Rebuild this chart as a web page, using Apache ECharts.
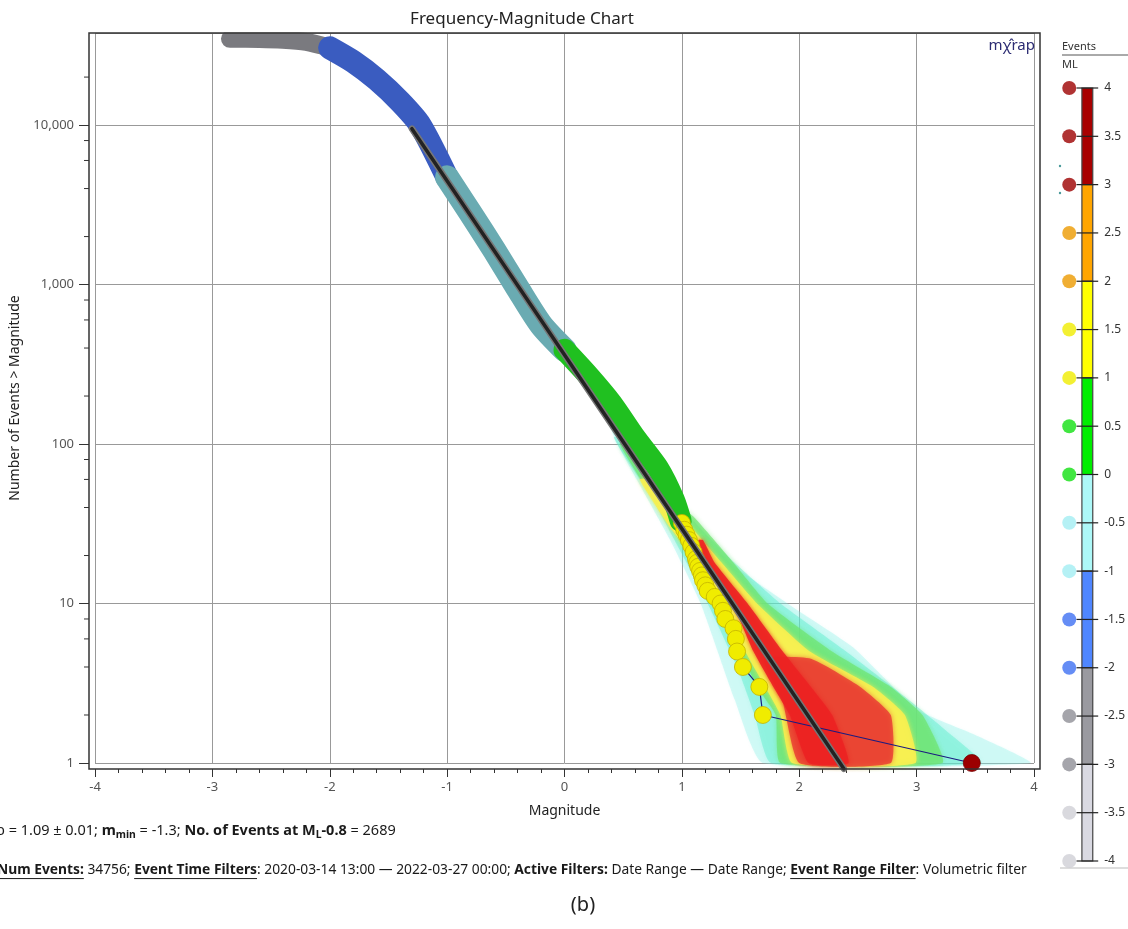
<!DOCTYPE html>
<html>
<head>
<meta charset="utf-8">
<title>Frequency-Magnitude Chart</title>
<script src="https://cdn.jsdelivr.net/npm/echarts@6/dist/echarts.min.js"></script>
<style>
  html, body { margin: 0; padding: 0; background: #fff; }
  #chart { width: 1128px; height: 929px; }
</style>
</head>
<body>
<div id="chart"></div>
<script>
// cumulative number of events N(>=M)
const grayMags   = [-2.85, -2.6, -2.4, -2.2, -2.0];
const grayCounts = [34756, 34700, 34300, 33200, 30500];
const blueMags   = [-2.0, -1.8, -1.6, -1.4, -1.23, -1.0];
const blueCounts = [30500, 25000, 19300, 14000, 10000, 4700];
const tealMags   = [-1.0, -0.8, -0.6, -0.4, -0.2, 0.0];
const tealCounts = [4700, 2800, 1650, 950, 560, 390];
const greenMags   = [0.0, 0.2, 0.4, 0.6, 0.8, 0.93, 0.99];
const greenCounts = [390, 270, 180, 110, 70, 45, 33];
// largest events, one marker each
const tailMags   = [1.00, 1.02, 1.04, 1.06, 1.08, 1.10, 1.12, 1.13, 1.14, 1.155, 1.17, 1.18, 1.20, 1.22, 1.28, 1.33, 1.35, 1.37, 1.44, 1.46, 1.47, 1.52, 1.66, 1.69, 3.47];
const tailCounts = [32, 29, 27, 25, 23, 21, 19, 18, 17, 16, 15, 14, 13, 12, 11, 10, 9, 8, 7, 6, 5, 4, 3, 2, 1];
// Gutenberg-Richter fit (b = 1.09), end points
const fitMags   = [-1.3, 2.38];
const fitCounts = [9500, 0.92];
// uncertainty fan, outline of each density level as [M, N]
const fanOuter  = [[0.36,150],[0.45,100],[0.62,59],[0.90,25],[1.16,10],[1.45,2.5],[1.69,1],
                   [3.97,1],[3.50,1.5],[3.01,2.15],[2.46,5.3],[1.90,10],[1.41,18],[1.01,37],[0.64,100],[0.49,150]];
const fanMint   = [[0.42,110],[0.75,45],[1.04,18],[1.22,10],[1.47,4],[1.62,2],[1.76,1],
                   [3.55,1],[3.25,1.6],[2.90,2.6],[2.40,5],[1.84,10],[1.45,18],[1.05,36],[0.62,100]];
const fanGreen  = [[0.47,100],[0.80,40],[1.09,18],[1.26,10],[1.50,5],[1.64,3],[1.80,2],[1.84,1],
                   [3.22,1],[3.05,2],[2.78,3],[2.28,5],[1.73,10],[1.44,18],[1.10,35],[0.73,60],[0.59,100]];
const fanYellow = [[0.64,60],[0.90,30],[1.13,18],[1.34,10],[1.54,5],[1.71,3],[1.84,2],[1.94,1],
                   [2.99,1],[2.90,2],[2.63,3],[2.09,5],[1.64,10],[1.34,18],[1.05,32],[0.71,60]];
const fanPink   = [[1.70,4.5],[1.86,2.4],[2.00,1],[2.78,1],[2.78,2],[2.52,3],[2.10,4.5]];
const fanRed    = [[1.14,25],[1.20,18],[1.43,10],[1.61,5],[1.78,3],[1.92,2],[2.08,1],
                   [2.42,1],[2.28,2],[2.10,3],[1.86,5],[1.56,10],[1.28,18],[1.18,25]];
// y axis minor ticks
const yMinorTicks = [2,4,6,8,20,40,60,80,200,400,600,800,2000,4000,6000,8000,20000];
// colour legend (ML)
const legendLevels = [4,3.5,3,2.5,2,1.5,1,0.5,0,-0.5,-1,-1.5,-2,-2.5,-3,-3.5,-4];
const legendBandLo = [3,2,1,0,-1,-2,-3,-4];

const barColors = ['#a80000','#ffa500','#ffff00','#00ee00','#adf8f8','#4f86ff','#9a9aa0','#d9d9e2'];
const dotColors = ['#9c0000','#ec9a00','#f0ec00','#12e012','#a2eef2','#3f70f2','#8e8e96','#cfcfd6'];
function bandIndex(m) {
  for (let i = 0; i < legendBandLo.length; i++) if (m >= legendBandLo[i]) return i;
  return legendBandLo.length - 1;
}

const chart = echarts.init(document.getElementById('chart'));

function pairs(a, b) { return a.map((v, i) => [v, b[i]]); }

function band(mags, counts, color, width) {
  return {
    type: 'line', data: pairs(mags, counts), smooth: 0.25, symbol: 'none', z: 3, silent: true,
    lineStyle: { color: color, width: width, cap: 'round', join: 'round' }
  };
}

function fan(points, fill, blur) {
  return {
    type: 'custom', z: 1, silent: true, data: points, encode: { x: 0, y: 1 },
    renderItem: function (params, api) {
      if (params.dataIndex !== 0) return null;
      return {
        type: 'polygon',
        shape: { points: points.map(p => api.coord(p)), smooth: 0.15 },
        style: { fill: fill, shadowBlur: blur, shadowColor: fill }
      };
    }
  };
}

// text runs with bold / underline / subscript pieces
const measureCtx = document.createElement('canvas').getContext('2d');
function fontOf(s, size) { return (s.b ? 'bold ' : '') + (s.sub ? size * 0.72 : size) + 'px "Noto Sans"'; }
function textRun(segs, x0, y, targetWidth) {
  let total = 0;
  segs.forEach(s => { measureCtx.font = fontOf(s, 13); total += measureCtx.measureText(s.t).width; });
  const size = 13 * targetWidth / total;
  const els = [];
  let x = x0;
  segs.forEach(s => {
    measureCtx.font = fontOf(s, size);
    const w = measureCtx.measureText(s.t).width;
    els.push({
      type: 'text', x: x, y: y + (s.sub ? size * 0.3 : 0), z: 50,
      style: { text: s.t, fontSize: s.sub ? size * 0.72 : size, fontWeight: s.b ? 'bold' : 'normal',
               fontFamily: 'Noto Sans', fill: '#1a1a1a', verticalAlign: 'middle' }
    });
    if (s.u) els.push({ type: 'line', z: 50, shape: { x1: x, y1: y + size * 0.62, x2: x + w, y2: y + size * 0.62 },
                        style: { stroke: '#1a1a1a', lineWidth: 1 } });
    x += w;
  });
  return els;
}

const line1 = [
  { t: 'b = 1.09 \u00b1 0.01; ' }, { t: 'm', b: 1 }, { t: 'min', b: 1, sub: 1 }, { t: ' = -1.3; ' },
  { t: 'No. of Events at M', b: 1 }, { t: 'L', b: 1, sub: 1 }, { t: '-0.8', b: 1 }, { t: ' = 2689' }
];
const line2 = [
  { t: 'Num Events:', b: 1, u: 1 }, { t: ' 34756; ' }, { t: 'Event Time Filters', b: 1, u: 1 },
  { t: ': 2020-03-14 13:00 \u2014 2022-03-27 00:00; ' }, { t: 'Active Filters:', b: 1 },
  { t: ' Date Range \u2014 Date Range; ' }, { t: 'Event Range Filter', b: 1, u: 1 }, { t: ': Volumetric filter' }
];

const option = {
  animation: false,
  textStyle: { fontFamily: 'Noto Sans' },
  grid: [
    { left: 95, right: 94, top: 33, bottom: 166 },
    { left: 1062, top: 88, width: 40, height: 773 }
  ],
  xAxis: [
    {
      type: 'value', min: -4, max: 4, interval: 1, offset: 6,
      name: 'Magnitude', nameLocation: 'middle', nameGap: 35,
      nameTextStyle: { fontSize: 14, color: '#222' },
      axisLine: { show: false, onZero: false },
      axisTick: { length: 8, lineStyle: { color: '#333' } },
      minorTick: { show: true, splitNumber: 5, length: 4, lineStyle: { color: '#333' } },
      axisLabel: { color: '#555', fontSize: 13, margin: 12 },
      splitLine: { lineStyle: { color: '#999' } }
    },
    { gridIndex: 1, type: 'value', min: 0, max: 40, show: false, axisLine: { onZero: false } }
  ],
  yAxis: [
    {
      type: 'log', logBase: 10, min: 1, max: 37800, offset: 6,
      name: 'Number of Events > Magnitude', nameLocation: 'middle', nameGap: 58,
      nameTextStyle: { fontSize: 14, color: '#222' },
      axisLine: { show: false, onZero: false },
      axisTick: { length: 10, lineStyle: { color: '#333' } },
      axisLabel: { color: '#555', fontSize: 13, margin: 15, showMaxLabel: false,
                   formatter: v => Math.round(v).toLocaleString('en-US') },
      splitLine: { lineStyle: { color: '#999' } }
    },
    {
      gridIndex: 1, type: 'value', min: -4, max: 4, interval: 0.5, position: 'right',
      axisLine: { show: false, onZero: false },
      axisTick: { show: false },
      axisLabel: { color: '#333', fontSize: 12, margin: 6 },
      splitLine: { show: false }
    }
  ],
  series: [
    fan(fanOuter, 'rgba(130,240,230,0.32)', 3),
    fan(fanMint, 'rgba(80,235,200,0.40)', 4),
    fan(fanGreen, 'rgba(110,228,110,0.70)', 5),
    fan(fanYellow, 'rgba(250,240,80,0.88)', 5),
    fan(fanPink, 'rgba(232,48,48,0.75)', 5),
    fan(fanRed, 'rgba(236,34,34,0.9)', 4),
    band(grayMags, grayCounts, '#7a7a7f', 18),
    band(blueMags, blueCounts, '#3a5cc0', 23),
    band(tealMags, tealCounts, '#6aabb2', 24),
    band(greenMags, greenCounts, '#20c020', 22),
    {
      type: 'line', z: 5, clip: false, symbol: 'circle', symbolSize: 17,
      data: tailMags.map((m, i) => ({
        value: [m, tailCounts[i]],
        itemStyle: { color: dotColors[bandIndex(m)], borderColor: m >= 3 ? '#700' : '#c4b200', borderWidth: 0.8 }
      })),
      lineStyle: { color: '#1b1b80', width: 1.2 }
    },
    { type: 'line', z: 6, clip: false, symbol: 'none', data: pairs(fitMags, fitCounts),
      lineStyle: { color: '#777', width: 6.5, cap: 'round' } },
    { type: 'line', z: 7, clip: false, symbol: 'none', data: pairs(fitMags, fitCounts),
      lineStyle: { color: '#222', width: 3.5, cap: 'round' } },
    // y minor ticks
    {
      type: 'custom', clip: false, silent: true, data: yMinorTicks.map(v => [-4, v]), encode: { x: 0, y: 1 },
      renderItem: function (params, api) {
        const p = api.coord([api.value(0), api.value(1)]);
        return { type: 'line', shape: { x1: p[0] - 6, y1: p[1], x2: p[0] - 11, y2: p[1] },
                 style: { stroke: '#333', lineWidth: 1 } };
      }
    },
    // legend colour bar
    {
      type: 'custom', xAxisIndex: 1, yAxisIndex: 1, z: 2, silent: true,
      data: legendBandLo.map(lo => [lo, lo + 1]),
      renderItem: function (params, api) {
        const a = api.coord([22, api.value(1)]);
        const b = api.coord([34, api.value(0)]);
        return { type: 'rect', shape: { x: a[0], y: a[1], width: b[0] - a[0], height: b[1] - a[1] },
                 style: { fill: barColors[params.dataIndex], stroke: '#444', lineWidth: 1.2 } };
      }
    },
    // legend ticks across the bar
    {
      type: 'custom', xAxisIndex: 1, yAxisIndex: 1, z: 3, silent: true,
      data: legendLevels.map(v => [16, v]),
      renderItem: function (params, api) {
        const a = api.coord([16, api.value(1)]);
        const b = api.coord([40, api.value(1)]);
        return { type: 'line', shape: { x1: a[0], y1: a[1], x2: b[0], y2: b[1] },
                 style: { stroke: '#222', lineWidth: 1.2 } };
      }
    },
    {
      type: 'scatter', xAxisIndex: 1, yAxisIndex: 1, symbolSize: 14, z: 4, silent: true,
      data: legendLevels.map(v => ({ value: [8, v], itemStyle: { color: dotColors[bandIndex(v)] } }))
    }
  ],
  graphic: [
    // white strip above the plot hides the clipped top of the thick bands
    { type: 'rect', z: 90, silent: true, shape: { x: 85, y: 0, width: 960, height: 32.5 }, style: { fill: '#fff' } },
    { type: 'rect', z: 100, silent: true, shape: { x: 89, y: 33, width: 951, height: 736 },
      style: { fill: 'none', stroke: '#333', lineWidth: 1.5 } },
    { type: 'text', x: 522, y: 19, z: 101, style: { text: 'Frequency-Magnitude Chart', fontSize: 17, fontFamily: 'Noto Sans',
      fill: '#222', align: 'center', verticalAlign: 'middle' } },
    { type: 'text', x: 1035, y: 46, z: 60, style: { text: 'm\u03c7\u0302rap', fontSize: 15, fontFamily: 'Noto Sans',
      fill: '#2b2b72', align: 'right', verticalAlign: 'middle' } },
    { type: 'text', x: 1062, y: 47, style: { text: 'Events', fontSize: 11, fontFamily: 'Noto Sans', fill: '#333',
      verticalAlign: 'middle' } },
    { type: 'line', shape: { x1: 1062, y1: 55, x2: 1128, y2: 55 }, style: { stroke: '#555', lineWidth: 1 } },
    { type: 'text', x: 1062, y: 65, style: { text: 'ML', fontSize: 11, fontFamily: 'Noto Sans', fill: '#333',
      verticalAlign: 'middle' } },
    { type: 'line', shape: { x1: 1060, y1: 868, x2: 1128, y2: 868 }, style: { stroke: '#bbb', lineWidth: 1 } },
    { type: 'circle', shape: { cx: 1060, cy: 166, r: 1.2 }, style: { fill: '#4a9a9a' } },
    { type: 'circle', shape: { cx: 1060, cy: 193, r: 1.2 }, style: { fill: '#4a9a9a' } },
    { type: 'text', x: 583, y: 905, style: { text: '(b)', fontSize: 20, fontFamily: 'Noto Sans', fill: '#222',
      align: 'center', verticalAlign: 'middle' } }
  ].concat(textRun(line1, -4, 831, 400)).concat(textRun(line2, -3, 870, 1031))
};

chart.setOption(option);
</script>
</body>
</html>
